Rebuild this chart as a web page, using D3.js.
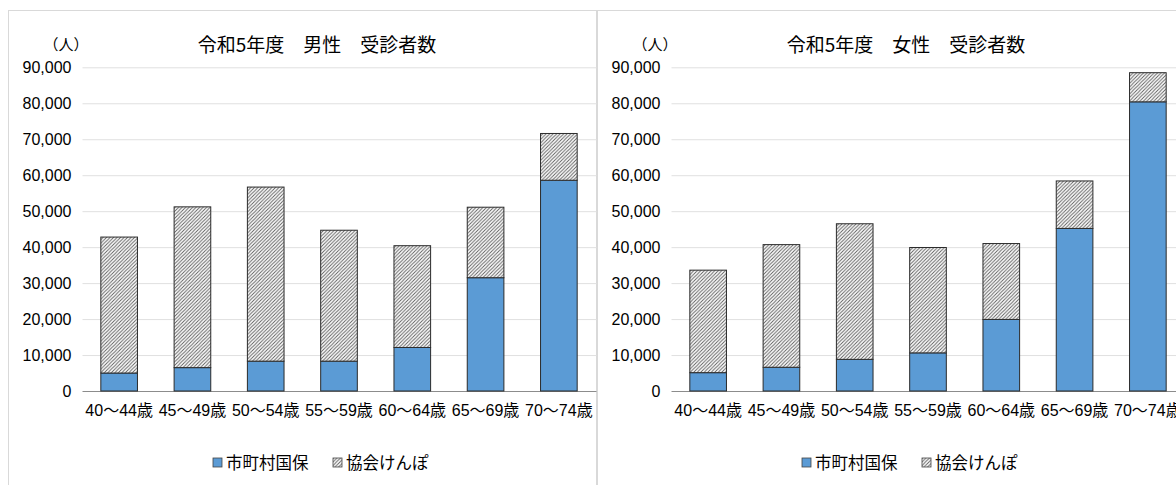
<!DOCTYPE html>
<html>
<head>
<meta charset="utf-8">
<script src="https://cdn.jsdelivr.net/npm/d3@7"></script>
<style>
  body { margin: 0; background: #fff; }
  svg { display: block; }
</style>
</head>
<body>
<script>
// age groups on the x axis
const categories = ["40～44歳", "45～49歳", "50～54歳", "55～59歳", "60～64歳", "65～69歳", "70～74歳"];
const seriesNames = ["市町村国保", "協会けんぽ"];
const yTicks = [0, 10000, 20000, 30000, 40000, 50000, 60000, 70000, 80000, 90000];

// 男性 (men)
const maleKokuho = [5000, 6500, 8300, 8300, 12100, 31500, 58600];
const maleKyokai = [37800, 44700, 48400, 36400, 28300, 19600, 13000];
// 女性 (women)
const femaleKokuho = [5100, 6600, 8800, 10600, 19900, 45200, 80400];
const femaleKyokai = [28500, 34100, 37700, 29300, 21100, 13200, 8100];

const W = 1176, H = 485;
const svg = d3.select("body").append("svg")
  .attr("width", W)
  .attr("height", H);

// hatch fill for 協会けんぽ
const pat = svg.append("defs").append("pattern")
  .attr("id", "hatch")
  .attr("patternUnits", "userSpaceOnUse")
  .attr("width", 3.5)
  .attr("height", 3.5);
pat.append("rect").attr("width", 3.5).attr("height", 3.5).attr("fill", "#fff");
pat.append("path")
  .attr("d", "M-1,1 l2,-2 M0,3.5 l3.5,-3.5 M2.5,4.5 l2,-2")
  .attr("stroke", "#5a5a5a")
  .attr("stroke-width", 0.9);

const numFont = "'Liberation Sans', Arial, 'Noto Sans CJK JP', sans-serif";
const jpFont = "'Noto Sans CJK JP', sans-serif";
const fills = ["#5b9bd5", "url(#hatch)"];

function drawChart(ox, title, kokuho, kyokai) {
  const g = svg.append("g").attr("transform", "translate(" + ox + ",0)");

  // panel border
  g.append("rect")
    .attr("x", 0.5).attr("y", 10.5)
    .attr("width", 588).attr("height", 520)
    .attr("fill", "#fff")
    .attr("stroke", "#d9d9d9");

  const x = d3.scaleBand()
    .domain(categories)
    .range([74.5, 74.5 + 513])
    .paddingInner(0.5)
    .paddingOuter(0.25);
  const y = d3.scaleLinear()
    .domain([0, 90000])
    .range([391, 67.3]);

  // y axis + gridlines
  const yAxis = g.append("g")
    .attr("transform", "translate(74.5,0)")
    .call(d3.axisLeft(y).tickValues(yTicks).tickFormat(d3.format(",")).tickSize(-514).tickPadding(11));
  yAxis.select(".domain").remove();
  yAxis.selectAll(".tick line")
    .attr("stroke", d => d === 0 ? "#8c8c8c" : "#e0e0e0")
    .attr("stroke-width", 1);
  yAxis.selectAll(".tick text")
    .attr("font-family", numFont)
    .attr("font-size", 16)
    .attr("fill", "#000");

  // stacked bars
  const rows = categories.map((c, i) => ({cat: c, kokuho: kokuho[i], kyokai: kyokai[i]}));
  const stacked = d3.stack().keys(["kokuho", "kyokai"])(rows);
  g.selectAll(".layer")
    .data(stacked)
    .enter().append("g")
    .attr("fill", (d, i) => fills[i])
    .selectAll("rect")
    .data(d => d)
    .enter().append("rect")
    .attr("x", d => x(d.data.cat))
    .attr("y", d => y(d[1]))
    .attr("width", x.bandwidth())
    .attr("height", d => y(d[0]) - y(d[1]))
    .attr("stroke", "#2b2b2b")
    .attr("stroke-width", 1);

  // x axis labels
  const xAxis = g.append("g")
    .attr("transform", "translate(0,391)")
    .call(d3.axisBottom(x).tickSize(0).tickPadding(14));
  xAxis.select(".domain").remove();
  xAxis.selectAll(".tick text")
    .attr("font-family", numFont)
    .attr("font-size", 16)
    .attr("fill", "#000");

  // title and unit
  g.append("text")
    .attr("x", 309).attr("y", 52)
    .attr("text-anchor", "middle")
    .attr("font-family", jpFont)
    .attr("font-size", 19)
    .attr("fill", "#000")
    .text(title);
  g.append("text")
    .attr("x", 58).attr("y", 50)
    .attr("text-anchor", "middle")
    .attr("font-family", jpFont)
    .attr("font-size", 15)
    .attr("fill", "#000")
    .text("（人）");

  // legend
  const lg = g.append("g").attr("transform", "translate(205,463)");
  const items = [{x: 0, i: 0}, {x: 120, i: 1}];
  items.forEach(it => {
    lg.append("rect")
      .attr("x", it.x).attr("y", -5)
      .attr("width", 9).attr("height", 9)
      .attr("fill", fills[it.i])
      .attr("stroke", "#444")
      .attr("stroke-width", 0.8);
    lg.append("text")
      .attr("x", it.x + 13).attr("y", 6)
      .attr("font-family", jpFont)
      .attr("font-size", 16.5)
      .attr("fill", "#000")
      .text(seriesNames[it.i]);
  });
}

drawChart(8, "令和5年度　男性　受診者数", maleKokuho, maleKyokai);
drawChart(597, "令和5年度　女性　受診者数", femaleKokuho, femaleKyokai);
</script>
</body>
</html>
